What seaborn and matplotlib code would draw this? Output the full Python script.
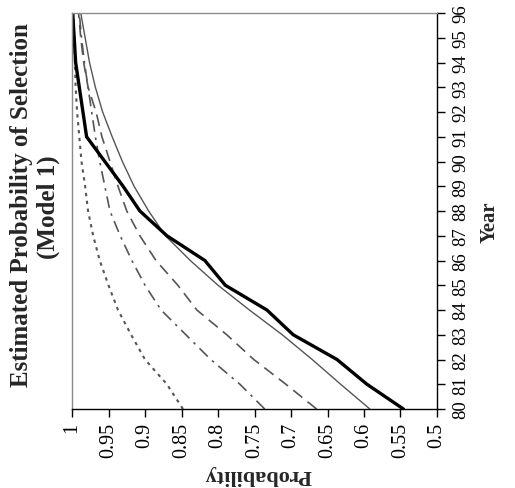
import numpy as np
import pandas as pd
import matplotlib
matplotlib.use("Agg")
import matplotlib.pyplot as plt
import seaborn as sns

# ---- data ----
years = list(range(80, 97))
year_labels = [str(y) for y in years]
prob_ticks = [1.0, 0.95, 0.9, 0.85, 0.8, 0.75, 0.7, 0.65, 0.6, 0.55, 0.5]
prob_labels = ["1", "0.95", "0.9", "0.85", "0.8", "0.75", "0.7", "0.65", "0.6", "0.55", "0.5"]

series_thick = [0.546, 0.596, 0.637, 0.697, 0.733, 0.790, 0.818, 0.870, 0.907,
                0.930, 0.955, 0.980, 0.985, 0.990, 0.995, 0.997, 0.999]
series_thin = [0.592, 0.632, 0.671, 0.712, 0.757, 0.800, 0.838, 0.872, 0.895,
               0.915, 0.931, 0.945, 0.958, 0.968, 0.976, 0.982, 0.988]
series_longdash = [0.665, 0.707, 0.751, 0.788, 0.829, 0.855, 0.885, 0.907, 0.925,
                   0.937, 0.948, 0.959, 0.967, 0.978, 0.984, 0.988, 0.991]
series_dashdot = [0.736, 0.770, 0.810, 0.844, 0.878, 0.900, 0.918, 0.934, 0.948,
                  0.955, 0.962, 0.968, 0.973, 0.978, 0.983, 0.987, 0.990]
series_dotted = [0.848, 0.870, 0.900, 0.919, 0.937, 0.950, 0.962, 0.971, 0.978,
                 0.982, 0.987, 0.990, 0.993, 0.995, 0.996, 0.997, 0.998]

sns.set_style("ticks")
plt.rcParams["font.family"] = ["Liberation Serif", "DejaVu Serif"]

W, H = 515, 489
fig = plt.figure(figsize=(W / 100, H / 100), dpi=100)
L, R, T, B = 72, 437, 14, 410
ax = fig.add_axes([L / W, 1 - B / H, (R - L) / W, (B - T) / H])

gray = "#555555"
styles = [
    (series_dotted, gray, 1.5, (0, (1.6, 2.2))),
    (series_dashdot, gray, 1.2, (0, (7, 3.5, 1.5, 3.5))),
    (series_longdash, gray, 1.2, (0, (7, 4))),
    (series_thin, gray, 1.0, "-"),
    (series_thick, "black", 2.4, "-"),
]
for vals, color, lw, ls in styles:
    df = pd.DataFrame({"Year": years, "Probability": vals})
    sns.lineplot(data=df, x="Probability", y="Year", orient="y", sort=False,
                 color=color, linewidth=lw, ax=ax, legend=False)
    ln = ax.lines[-1]
    ln.set_linestyle(ls)
    ln.set_dash_capstyle("butt")
    ln.set_solid_joinstyle("miter")

ax.set_xlim(1.0, 0.5)
ax.set_ylim(80, 96)
ax.set_xlabel("")
ax.set_ylabel("")

ax.set_xticks(prob_ticks, labels=prob_labels, rotation=90)
ax.yaxis.tick_right()
ax.set_yticks(years, labels=year_labels, rotation=90, va="center")
ax.tick_params(axis="x", direction="out", length=6, width=1, pad=3,
               labelsize=14.5, colors="black")
ax.tick_params(axis="y", direction="out", length=6, width=1, pad=5,
               labelsize=13.5, left=False, right=True, colors="black")

for s in ["left", "top"]:
    ax.spines[s].set_color("#8c8c8c")
    ax.spines[s].set_linewidth(1.0)
for s in ["right", "bottom"]:
    ax.spines[s].set_color("black")
    ax.spines[s].set_linewidth(1.0)
    ax.spines[s].set_visible(True)

# titles and axis labels (rotated like the reference)
fig.text(22 / W, 1 - 205 / H, "Estimated Probability of Selection", rotation=90,
         ha="center", va="center", fontsize=18, fontweight="bold")
fig.text(48 / W, 1 - 207 / H, "(Model 1)", rotation=90,
         ha="center", va="center", fontsize=18, fontweight="bold")
fig.text(258 / W, 1 - 475 / H, "Probability", rotation=180,
         ha="center", va="center", fontsize=16, fontweight="bold")
fig.text(490 / W, 1 - 222 / H, "Year", rotation=90,
         ha="center", va="center", fontsize=15, fontweight="bold")

fig.savefig("out.png", dpi=100)
